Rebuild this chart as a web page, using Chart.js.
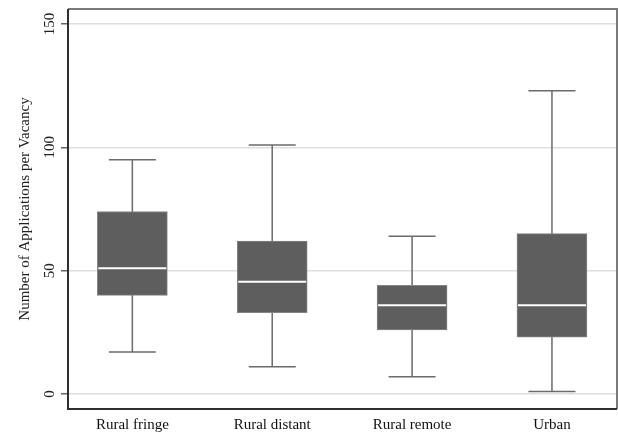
<!DOCTYPE html>
<html>
<head>
<meta charset="utf-8">
<script src="https://cdn.jsdelivr.net/npm/chart.js@4/dist/chart.umd.min.js"></script>
<style>
    body { margin: 0; background: #fff; }
    #wrap { width: 618px; height: 435px; }
</style>
</head>
<body>
<div id="wrap"><canvas id="myChart"></canvas></div>
<script>
const categories = ['Rural fringe', 'Rural distant', 'Rural remote', 'Urban'];
const lowerWhisker = [17, 11, 7, 1];
const q1 = [40, 33, 26, 23];
const median = [51, 45.5, 36, 36];
const q3 = [74, 62, 44, 65];
const upperWhisker = [95, 101, 64, 123];
const yTicks = [0, 50, 100, 150];

const serif = "'Liberation Serif', 'Times New Roman', serif";

// whiskers behind the boxes, medians + frame on top
const boxExtras = {
    id: 'boxExtras',
    beforeDatasetsDraw(chart) {
        const ctx = chart.ctx;
        const x = chart.scales.x;
        const y = chart.scales.y;
        ctx.save();
        ctx.strokeStyle = '#6b6b6b';
        ctx.lineWidth = 1.5;
        for (let i = 0; i < categories.length; i++) {
            const cx = x.getPixelForValue(i);
            const top = y.getPixelForValue(upperWhisker[i]);
            const bottom = y.getPixelForValue(lowerWhisker[i]);
            ctx.beginPath();
            ctx.moveTo(cx, top);
            ctx.lineTo(cx, bottom);
            ctx.moveTo(cx - 23.5, top);
            ctx.lineTo(cx + 23.5, top);
            ctx.moveTo(cx - 23.5, bottom);
            ctx.lineTo(cx + 23.5, bottom);
            ctx.stroke();
        }
        ctx.restore();
    },
    afterDatasetsDraw(chart) {
        const ctx = chart.ctx;
        const x = chart.scales.x;
        const y = chart.scales.y;
        const a = chart.chartArea;
        ctx.save();
        ctx.strokeStyle = '#ffffff';
        ctx.lineWidth = 2;
        for (let i = 0; i < categories.length; i++) {
            const cx = x.getPixelForValue(i);
            const my = y.getPixelForValue(median[i]);
            ctx.beginPath();
            ctx.moveTo(cx - 34, my);
            ctx.lineTo(cx + 34, my);
            ctx.stroke();
        }
        // frame: top/right lighter, left/bottom dark
        ctx.lineWidth = 2;
        ctx.strokeStyle = '#7a7a7a';
        ctx.beginPath();
        ctx.moveTo(a.left, a.top);
        ctx.lineTo(a.right, a.top);
        ctx.lineTo(a.right, a.bottom);
        ctx.stroke();
        ctx.strokeStyle = '#2e2e2e';
        ctx.beginPath();
        ctx.moveTo(a.left, a.top);
        ctx.lineTo(a.left, a.bottom);
        ctx.lineTo(a.right, a.bottom);
        ctx.stroke();
        ctx.restore();
    }
};

const ctx = document.getElementById('myChart').getContext('2d');
const chart = new Chart(ctx, { //eslint-disable-line
    type: 'bar',
    data: {
        datasets: [{
            data: categories.map((c, i) => ({ x: i, y: [q1[i], q3[i]] })),
            backgroundColor: '#5e5e5e',
            borderColor: '#858585',
            borderWidth: 1,
            borderSkipped: false,
            barThickness: 70,
        }]
    },
    options: {
        responsive: true,
        maintainAspectRatio: false,
        animation: false,
        layout: { padding: { top: 9, right: 1, left: 0, bottom: 0 } },
        plugins: {
            legend: { display: false },
            tooltip: { enabled: false },
        },
        scales: {
            x: {
                type: 'linear',
                offset: false,
                min: -0.46,
                max: 3.465,
                afterBuildTicks: (axis) => {
                    axis.ticks = categories.map((c, i) => ({ value: i }));
                },
                afterFit: (axis) => {
                    axis.height = 26;
                },
                ticks: {
                    callback: (v) => categories[v],
                    color: '#111',
                    font: { family: serif, size: 15, lineHeight: 1 },
                    padding: 9,
                    maxRotation: 0,
                },
                grid: { display: false, drawTicks: false, offset: false },
                border: { display: false },
            },
            y: {
                min: -6.1,
                max: 156.1,
                afterBuildTicks: (axis) => {
                    axis.ticks = yTicks.map((v) => ({ value: v }));
                },
                afterFit: (axis) => {
                    axis.width = 68;
                    axis.paddingTop = 0;
                    axis.paddingBottom = 0;
                },
                ticks: {
                    color: '#222',
                    font: { family: serif, size: 15 },
                    minRotation: 90,
                    maxRotation: 90,
                    crossAlign: 'center',
                    padding: 0,
                },
                grid: {
                    color: '#dedede',
                    lineWidth: 1.5,
                    tickColor: '#666',
                    tickLength: 7,
                },
                border: { display: false },
                title: {
                    display: true,
                    text: 'Number of Applications per Vacancy',
                    color: '#222',
                    font: { family: serif, size: 15 },
                    padding: { top: 16, bottom: 0 },
                },
            },
        },
    },
    plugins: [boxExtras],
});
</script>
</body>
</html>
